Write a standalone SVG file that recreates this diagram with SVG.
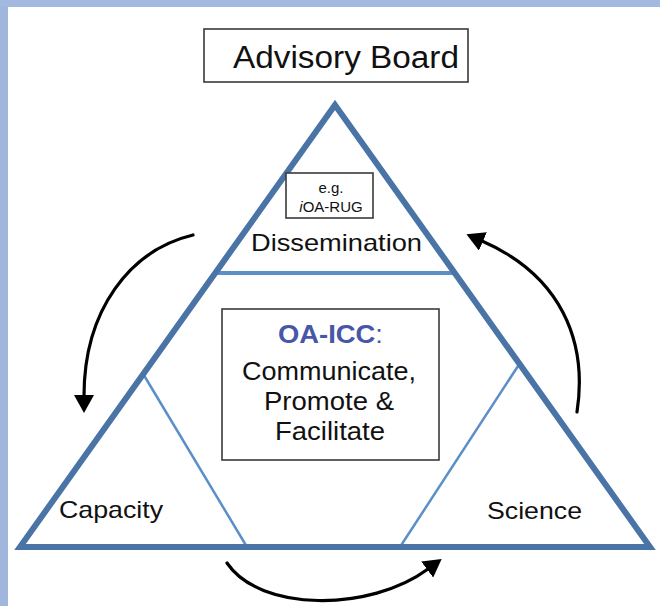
<svg xmlns="http://www.w3.org/2000/svg" width="660" height="606" viewBox="0 0 660 606">
  <style>
    text { font-family: "Liberation Sans", Arial, Helvetica, sans-serif; fill: #111; }
    .lbl { font-size: 24px; }
    .ctr { font-size: 25px; }
    .box { fill: #fff; stroke: #3a3a3a; stroke-width: 1.6; }
    .outer { fill: none; stroke: #4a74a6; stroke-width: 6; stroke-linejoin: miter; }
    .inner { fill: none; stroke: #5b8fc9; stroke-width: 2.5; }
    .band { fill: none; stroke: #5b8fc9; stroke-width: 4; }
    .arrow { fill: none; stroke: #000; stroke-width: 3.2; stroke-linecap: round; }
  </style>
  <defs>
    <marker id="ah" viewBox="0 0 18 20" refX="1" refY="10" markerWidth="18" markerHeight="20" markerUnits="userSpaceOnUse" orient="auto">
      <path d="M0,0 L18,10 L0,20 z" fill="#000"/>
    </marker>
  </defs>

  <!-- background -->
  <rect x="0" y="0" width="660" height="606" fill="#ffffff"/>
  <rect x="0" y="0" width="8" height="606" fill="#a0b6dd"/>
  <rect x="0" y="0" width="660" height="7" fill="#a3b9e0"/>

  <!-- triangle structure -->
  <g id="triangle">
    <line class="inner" x1="142" y1="372" x2="247" y2="547"/>
    <line class="inner" x1="520" y1="363" x2="400" y2="547"/>
    <line class="band" x1="214" y1="273" x2="456" y2="273"/>
    <polygon class="outer" points="335,105 650,547 20,547"/>
  </g>

  <g id="node-advisory">
    <rect class="box" x="204" y="29" width="264" height="53"/>
    <text x="233" y="68" font-size="31" textLength="226" lengthAdjust="spacingAndGlyphs">Advisory Board</text>
  </g>

  <g id="node-dissemination">
    <rect class="box" x="286" y="173" width="87" height="45"/>
    <text x="331" y="193" font-size="15" text-anchor="middle">e.g.</text>
    <text x="331" y="212" font-size="15" text-anchor="middle"><tspan font-style="italic">i</tspan>OA-RUG</text>
    <text class="lbl" x="251" y="251" textLength="171" lengthAdjust="spacingAndGlyphs">Dissemination</text>
  </g>

  <g id="node-center">
    <rect class="box" x="222" y="309" width="217" height="151"/>
    <text class="ctr" x="278" y="343" textLength="105" lengthAdjust="spacingAndGlyphs" style="fill:#4756a8;font-weight:bold">OA-ICC<tspan style="font-weight:normal">:</tspan></text>
    <text class="ctr" x="242" y="380" textLength="174" lengthAdjust="spacingAndGlyphs">Communicate,</text>
    <text class="ctr" x="264" y="410" textLength="130" lengthAdjust="spacingAndGlyphs">Promote &amp;</text>
    <text class="ctr" x="275" y="440" textLength="110" lengthAdjust="spacingAndGlyphs">Facilitate</text>
  </g>

  <g id="node-capacity">
    <text class="lbl" x="59" y="518" textLength="104" lengthAdjust="spacingAndGlyphs">Capacity</text>
  </g>

  <g id="node-science">
    <text class="lbl" x="487" y="519" textLength="95" lengthAdjust="spacingAndGlyphs">Science</text>
  </g>

  <g id="connectors">
    <path class="arrow" d="M193,235 C130,250 84,310 84,396" marker-end="url(#ah)"/>
    <path class="arrow" d="M577,412 C588,340 560,275 482,241" marker-end="url(#ah)"/>
    <path class="arrow" d="M227,563 C260,612 370,612 428,569" marker-end="url(#ah)"/>
  </g>
</svg>
